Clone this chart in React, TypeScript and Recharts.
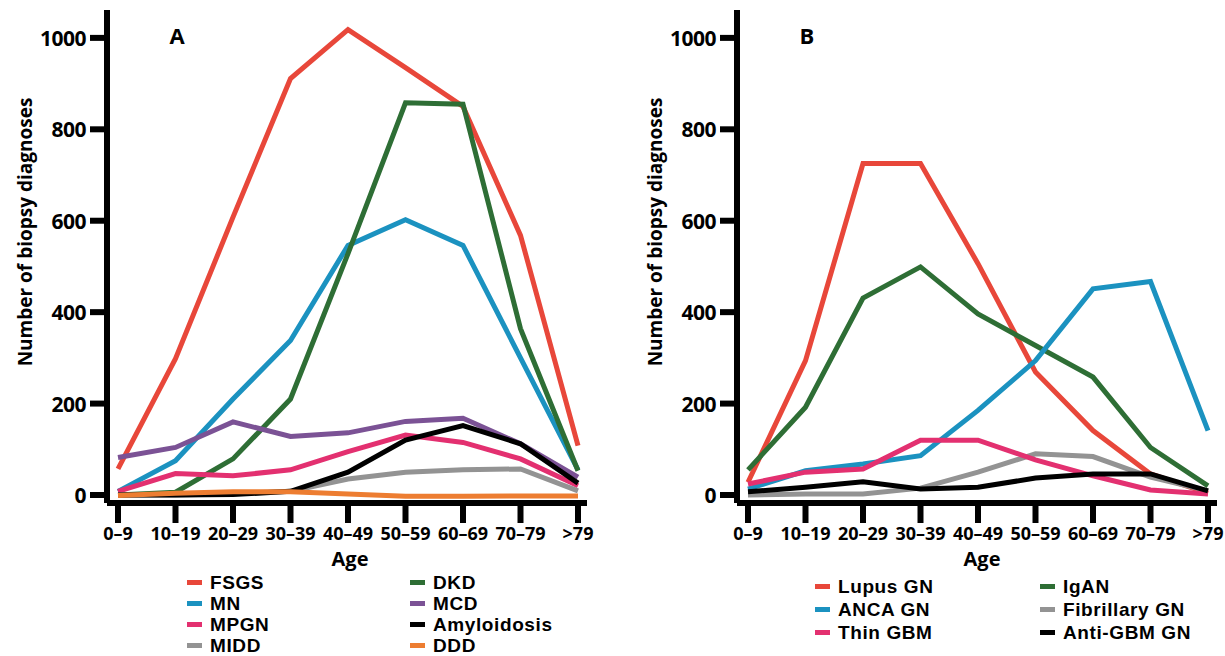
import { LineChart, Line, XAxis, YAxis } from 'recharts'

const ages = ['0–9', '10–19', '20–29', '30–39', '40–49', '50–59', '60–69', '70–79', '>79']
const yTicks = [0, 200, 400, 600, 800, 1000]

// panel A
const fsgs = [57, 298, 608, 911, 1018, 935, 850, 568, 108]
const mn = [8, 75, 210, 338, 546, 602, 546, 300, 55]
const dkd = [0, 6, 79, 210, 528, 858, 855, 364, 53]
const mcd = [82, 104, 160, 128, 136, 161, 168, 112, 39]
const mpgn = [8, 47, 42, 55, 95, 131, 115, 79, 20]
const midd = [0, 0, 3, 8, 35, 50, 55, 57, 9]
const amyloidosis = [0, 0, 1, 8, 50, 120, 152, 112, 26]
const ddd = [-1, 4, 7, 7, 2, -3, -3, -2, -2]

// panel B
const lupus = [28, 294, 725, 725, 506, 269, 141, 46, 4]
const igan = [55, 192, 431, 499, 396, 327, 258, 104, 20]
const anca = [13, 53, 68, 86, 185, 294, 451, 467, 141]
const fibrillary = [0, 2, 2, 15, 50, 90, 84, 39, 9]
const thinGbm = [24, 50, 57, 120, 120, 77, 42, 11, 2]
const antiGbm = [7, 17, 29, 13, 17, 37, 46, 46, 9]

const C = {
  red: '#e8473a', green: '#2e6e35', blue: '#1b92c0', pink: '#e33070',
  purple: '#7b5295', gray: '#939393', orange: '#ed7d31', black: '#000000',
}

type S = { key: string; name: string; values: number[]; color: string }

const seriesA: S[] = [
  { key: 'fsgs', name: 'FSGS', values: fsgs, color: C.red },
  { key: 'mn', name: 'MN', values: mn, color: C.blue },
  { key: 'dkd', name: 'DKD', values: dkd, color: C.green },
  { key: 'mcd', name: 'MCD', values: mcd, color: C.purple },
  { key: 'mpgn', name: 'MPGN', values: mpgn, color: C.pink },
  { key: 'midd', name: 'MIDD', values: midd, color: C.gray },
  { key: 'amy', name: 'Amyloidosis', values: amyloidosis, color: C.black },
  { key: 'ddd', name: 'DDD', values: ddd, color: C.orange },
]
const legendA = [['fsgs', 'dkd'], ['mn', 'mcd'], ['mpgn', 'amy'], ['midd', 'ddd']]

const seriesB: S[] = [
  { key: 'lupus', name: 'Lupus GN', values: lupus, color: C.red },
  { key: 'igan', name: 'IgAN', values: igan, color: C.green },
  { key: 'anca', name: 'ANCA GN', values: anca, color: C.blue },
  { key: 'fib', name: 'Fibrillary GN', values: fibrillary, color: C.gray },
  { key: 'thin', name: 'Thin GBM', values: thinGbm, color: C.pink },
  { key: 'antigbm', name: 'Anti-GBM GN', values: antiGbm, color: C.black },
]
const legendB = [['lupus', 'igan'], ['anca', 'fib'], ['thin', 'antigbm']]

const font = '"Open Sans", sans-serif'
const legendFont = '"Liberation Sans", Arial, sans-serif'

function toRows(series: S[]) {
  return ages.map((age, i) => {
    const row: Record<string, string | number> = { age }
    series.forEach(s => { row[s.key] = s.values[i] })
    return row
  })
}

// tick marks drawn here so their length is under control
const XTick = (p: any) => (
  <g>
    <line x1={p.x} x2={p.x} y1={p.y} y2={p.y + 20} stroke="#000" strokeWidth={6} />
    <text x={p.x} y={p.y + 37} textAnchor="middle" fontSize={18} fontWeight={700}
      fontFamily={font} fill="#000">{p.payload.value}</text>
  </g>
)
const YTick = (p: any) => (
  <g>
    <line x1={p.x - 17} x2={p.x} y1={p.y} y2={p.y} stroke="#000" strokeWidth={6} />
    <text x={p.x - 21} y={p.y} textAnchor="end" dominantBaseline="central" fontSize={21}
      fontWeight={700} fontFamily={font} letterSpacing={-0.5} fill="#000">{p.payload.value}</text>
  </g>
)

function Panel({ series, left, width, letter, ageDx }: {
  series: S[]; left: number; width: number; letter: string; ageDx: number
}) {
  return (
    <div style={{ position: 'absolute', left, top: 0 }}>
      <LineChart width={width} height={656} data={toRows(series)}
        margin={{ top: 10, right: width - 587, bottom: 103, left: 0 }}>
        <XAxis dataKey="age" interval={0} padding={{ left: 11, right: 9 }} height={50}
          stroke="#000" axisLine={{ strokeWidth: 6 }} tickLine={false}
          tickSize={0} tickMargin={0} tick={<XTick />}
          label={{
            content: () => (
              <text x={347 + ageDx} y={558} textAnchor="middle" dominantBaseline="central"
                fontSize={20} fontWeight={700} fontFamily={font} fill="#000">Age</text>
            ),
          }} />
        <YAxis width={107} domain={[-17.5, 1061]} ticks={yTicks} interval={0}
          stroke="#000" axisLine={{ strokeWidth: 6 }} tickLine={false}
          tickSize={0} tickMargin={0} tick={<YTick />}
          label={{
            content: () => (
              <text x={25} y={232} transform="rotate(-90 25 232)" textAnchor="middle"
                dominantBaseline="central" fontSize={19} fontWeight={700}
                fontFamily={font} fill="#000">Number of biopsy diagnoses</text>
            ),
          }} />
        {series.map(s => (
          <Line key={s.key} dataKey={s.key} name={s.name} type="linear" stroke={s.color}
            strokeWidth={5} dot={false} activeDot={false} isAnimationActive={false} />
        ))}
      </LineChart>
      <div style={{
        position: 'absolute', left: 177 - 15, top: 20, width: 30, textAlign: 'center',
        fontFamily: font, fontWeight: 700, fontSize: 22, lineHeight: '30px',
      }}>{letter}</div>
    </div>
  )
}

function LegendBlock({ series, rows, left, top, colX, rowH }: {
  series: S[]; rows: string[][]; left: number; top: number; colX: number[]; rowH: number
}) {
  return (
    <div style={{ position: 'absolute', left, top }}>
      {rows.map((r, ri) => r.map((k, ci) => {
        const s = series.find(x => x.key === k)!
        return (
          <div key={k} style={{
            position: 'absolute', left: colX[ci], top: ri * rowH, height: rowH,
            display: 'flex', alignItems: 'center', whiteSpace: 'nowrap',
            fontFamily: legendFont, fontWeight: 700, fontSize: 19, lineHeight: `${rowH}px`,
            letterSpacing: 0.6,
          }}>
            <span style={{ display: 'inline-block', width: 15, height: 5, background: s.color, marginRight: 8 }} />
            {s.name}
          </div>
        )
      }))}
    </div>
  )
}

export default function App() {
  return (
    <div style={{ position: 'absolute', left: 0, top: 0, width: 1225, height: 656, background: '#fff', overflow: 'hidden' }}>
      <Panel series={seriesA} left={0} width={612} letter="A" ageDx={3} />
      <Panel series={seriesB} left={630} width={595} letter="B" ageDx={5} />
      <LegendBlock series={seriesA} rows={legendA} left={187} top={572} colX={[0, 223]} rowH={21} />
      <LegendBlock series={seriesB} rows={legendB} left={815} top={575} colX={[0, 225]} rowH={23} />
    </div>
  )
}
